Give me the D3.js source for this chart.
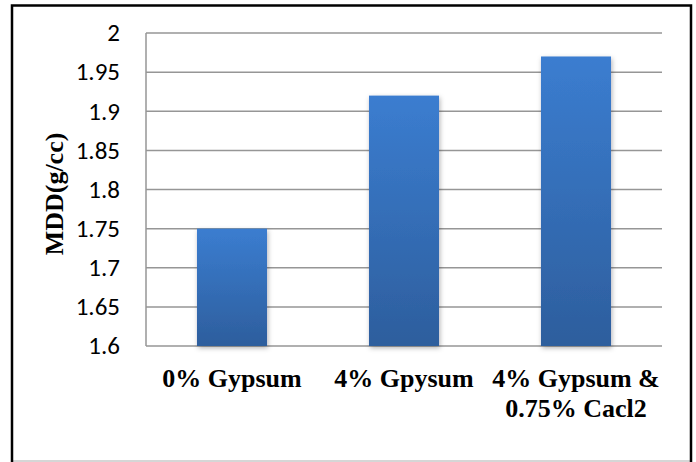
<!DOCTYPE html>
<html><head><meta charset="utf-8">
<script src="https://cdn.jsdelivr.net/npm/d3@7"></script>
<style>html,body{margin:0;padding:0;background:#fff;}svg{display:block;}</style>
</head><body>
<script>
const categories = [["0% Gypsum"], ["4% Gpysum"], ["4% Gypsum &", "0.75% Cacl2"]];
const values = [1.75, 1.92, 1.97];
const yTicks = [1.6, 1.65, 1.7, 1.75, 1.8, 1.85, 1.9, 1.95, 2];
const yTitle = "MDD(g/cc)";

const W = 696, H = 462;
const svg = d3.select("body").append("svg").attr("width", W).attr("height", H);
const defs = svg.append("defs");
const grad = defs.append("linearGradient").attr("id", "bg").attr("x1", 0).attr("y1", 0).attr("x2", 0).attr("y2", 1);
grad.append("stop").attr("offset", "0%").attr("stop-color", "#3b7dd0");
grad.append("stop").attr("offset", "100%").attr("stop-color", "#2d5e9d");
const f = defs.append("filter").attr("id", "sh").attr("x", "-20%").attr("y", "-20%").attr("width", "140%").attr("height", "140%");
f.append("feDropShadow").attr("dx", 1).attr("dy", 2).attr("stdDeviation", 2.5).attr("flood-color", "#000").attr("flood-opacity", 0.3);

svg.append("rect").attr("width", W).attr("height", H).attr("fill", "#fff");

const m = {left: 146, right: 662, top: 33, bottom: 346};
const x = d3.scaleBand().domain(d3.range(categories.length)).range([m.left, m.right]).paddingInner(0.593).paddingOuter(0.2965);
const y = d3.scaleLinear().domain([1.6, 2]).range([m.bottom, m.top]);

// gridlines
svg.append("g").selectAll("line").data(yTicks).join("line")
  .attr("x1", m.left).attr("x2", m.right)
  .attr("y1", d => y(d)).attr("y2", d => y(d))
  .attr("stroke", "#969696").attr("stroke-width", 1.5);
// left axis line
svg.append("line").attr("x1", m.left).attr("x2", m.left).attr("y1", m.top).attr("y2", m.bottom)
  .attr("stroke", "#969696").attr("stroke-width", 1.5);

// y tick labels
svg.append("g").selectAll("text").data(yTicks).join("text")
  .attr("x", 120).attr("y", d => y(d)).attr("dy", "0.33em")
  .attr("text-anchor", "end")
  .style("font-family", "Carlito")
  .attr("font-size", 25).attr("fill", "#000")
  .text(d => d3.format("")(d));

// bars
svg.append("g").selectAll("rect").data(values).join("rect")
  .attr("x", (d, i) => x(i)).attr("width", x.bandwidth())
  .attr("y", d => y(d)).attr("height", d => y(1.6) - y(d))
  .attr("fill", "url(#bg)").attr("filter", "url(#sh)");

// category labels
const cl = svg.append("g").selectAll("text").data(categories).join("text")
  .attr("x", (d, i) => x(i) + x.bandwidth() / 2).attr("y", 387)
  .attr("text-anchor", "middle")
  .style("font-family", "Liberation Serif").style("font-weight", "bold")
  .attr("font-size", 26).attr("fill", "#000");
cl.selectAll("tspan").data(d => d).join("tspan")
  .attr("x", function() { return this.parentNode.getAttribute("x"); })
  .attr("dy", (d, i) => i === 0 ? 0 : 30)
  .text(d => d);

// y title
svg.append("text").attr("transform", "translate(63,194) rotate(-90)")
  .attr("text-anchor", "middle")
  .style("font-family", "Liberation Serif").style("font-weight", "bold")
  .attr("font-size", 26).attr("fill", "#000").text(yTitle);

// frame
svg.append("line").attr("x1", 12).attr("x2", 691).attr("y1", 461).attr("y2", 461).attr("stroke", "#c8c8c8").attr("stroke-width", 1.5);
svg.append("path").attr("d", "M12,462 L12,5.5 L691,5.5 L691,462")
  .attr("fill", "none").attr("stroke", "#000").attr("stroke-width", 2.5);
</script>
</body></html>
